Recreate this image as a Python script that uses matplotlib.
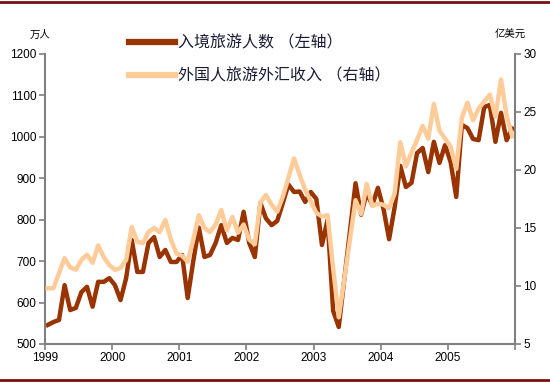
import numpy as np
import matplotlib
matplotlib.use("Agg")
import matplotlib.pyplot as plt
from matplotlib.lines import Line2D

plt.rcParams['font.family'] = ['Liberation Sans', 'Noto Sans CJK SC']

years = [1999, 2000, 2001, 2002, 2003, 2004, 2005]
labels = ["入境旅游人数 （左轴）", "外国人旅游外汇收入 （右轴）"]

# 入境旅游人数（万人），1999-2005 逐月
arrivals = [546, 553, 558, 642, 582, 587, 625, 638, 590, 650, 650, 659,
            642, 606, 659, 751, 674, 674, 744, 758, 710, 727, 698, 698,
            715, 611, 700, 781, 710, 715, 744, 787, 744, 756, 751, 819,
            744, 710, 840, 803, 787, 797, 840, 885, 867, 868, 843, 867,
            850, 739, 800, 580, 541, 657, 772, 888, 812, 865, 835, 877,
            826, 753, 831, 930, 879, 889, 961, 973, 915, 988, 937, 980,
            939, 855, 1029, 1021, 995, 992, 1072, 1077, 988, 1058, 992, 1020]

# 外国人旅游外汇收入（亿美元）
receipts = [9.8, 9.8, 11.1, 12.4, 11.6, 11.4, 12.25, 12.7, 12.0, 13.5, 12.5, 11.8,
            11.4, 11.55, 12.25, 15.1, 13.8, 13.7, 14.65, 15.0, 14.65, 15.7, 14.0, 12.8,
            12.6, 12.1, 14.0, 16.1, 15.0, 14.65, 15.3, 16.55, 14.8, 15.95, 14.6, 15.3,
            14.0, 13.6, 17.2, 17.85, 17.0, 16.4, 17.7, 19.3, 21.0, 19.6, 18.3, 17.3,
            16.3, 16.0, 16.1, 11.5, 7.3, 10.6, 14.0, 17.4, 16.2, 18.8, 16.9, 17.1,
            17.0, 16.7, 18.0, 22.4, 20.3, 21.5, 22.6, 23.8, 22.7, 25.7, 23.4, 22.7,
            22.0, 20.1, 24.5, 25.8, 24.3, 25.3, 25.9, 26.5, 24.6, 27.8, 24.7, 22.9]

months = np.arange(len(arrivals))
x = years[0] + (months + 0.5) / 12

fig = plt.figure(figsize=(5.5, 3.83), dpi=100)
ax = fig.add_axes([45/550, 1-344/383, 470/550, 290/383])
ax2 = ax.twinx()

l1, = ax.plot(x, arrivals, color='#993300', lw=3.2, solid_joinstyle='round')
l2, = ax2.plot(x, receipts, color='#FFCC99', lw=3.2, solid_joinstyle='round')

ax.set_xlim(1999, 2006)
ax.set_ylim(500, 1200)
ax2.set_ylim(5, 30)
ax.set_xticks(years + [2006])
ax.set_xticklabels([str(y) for y in years] + [''])
ax.set_yticks(range(500, 1201, 100))
ax2.set_yticks(range(5, 31, 5))

gray = '#808080'
for a in (ax, ax2):
    a.spines['top'].set_visible(False)
    for s in a.spines.values():
        s.set_color(gray)
        s.set_linewidth(1.5)
ax.spines['right'].set_visible(False)
ax2.spines['left'].set_visible(False)
ax2.spines['bottom'].set_visible(False)

ax.tick_params(axis='both', direction='out', length=4, width=1.2, color=gray,
               labelsize=8.5, labelcolor='black', pad=2)
ax2.tick_params(axis='y', direction='out', length=4, width=1.2, color=gray,
                labelsize=8.5, labelcolor='black', pad=2)

# 图例放在绘图区上方，两行间距较大
leg = ax2.legend([l1, l2], labels, loc='upper left',
                 bbox_to_anchor=(129/550, 1-35/383), bbox_transform=fig.transFigure,
                 frameon=False, fontsize=11.5, handlelength=2.9, handletextpad=0.15,
                 labelspacing=1.15, borderpad=0, borderaxespad=0)
for t in leg.get_texts():
    t.set_color('#1a1a33')
for ln in leg.get_lines():
    ln.set_linewidth(4.5)

fig.text(40/550, 1-35/383, '万人', ha='center', va='center', fontsize=7.5)
fig.text(510/550, 1-35/383, '亿美元', ha='center', va='center', fontsize=7.5)

for yy in (2, 380):
    fig.add_artist(Line2D([0, 1], [1-yy/383]*2, transform=fig.transFigure,
                          color='#7a1010', lw=2))

fig.savefig('out.png', dpi=100)
